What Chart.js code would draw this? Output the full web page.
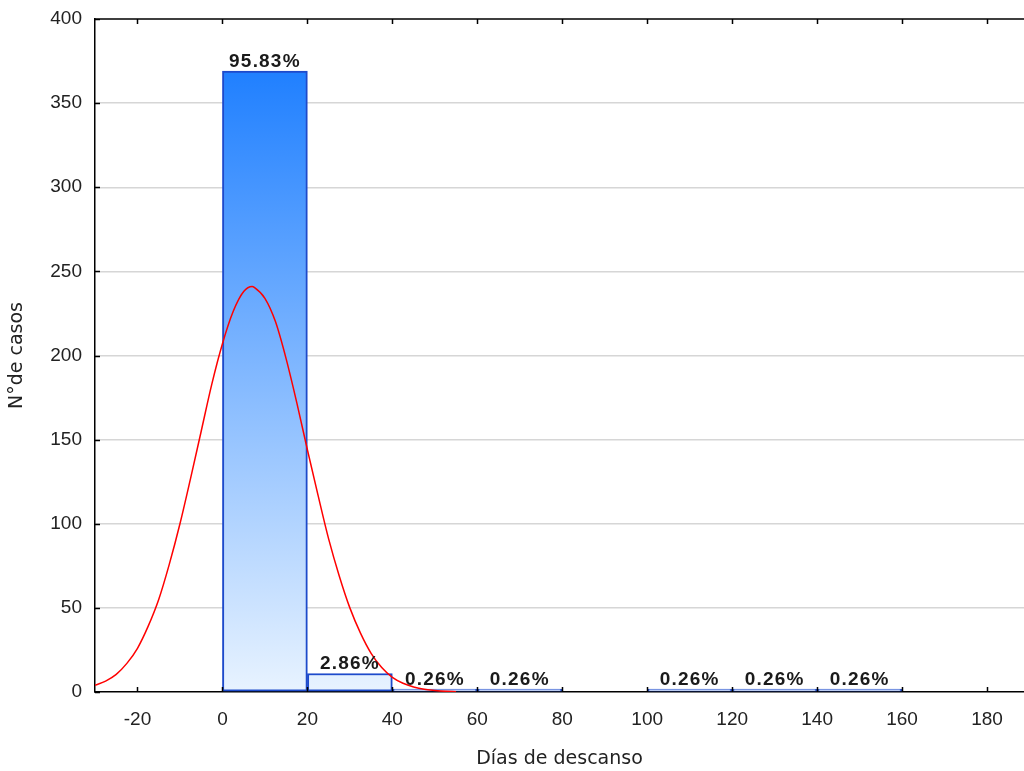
<!DOCTYPE html>
<html>
<head>
<meta charset="utf-8">
<script src="https://cdn.jsdelivr.net/npm/chart.js@4/dist/chart.umd.min.js"></script>
<style>
  html, body { margin:0; padding:0; background:#fff; overflow:hidden; }
  #wrap { width:1024px; height:771px; position:relative; }
</style>
</head>
<body>
<div id="wrap"><canvas id="hist"></canvas></div>
<script>
// ---- 資料 ----
const binCenters = [10, 30, 50, 70, 110, 130, 150];
const binCounts  = [369, 11, 1, 1, 1, 1, 1];
const binLabels  = ['95.83%', '2.86%', '0.26%', '0.26%', '0.26%', '0.26%', '0.26%'];

// 常態曲線
const curveX = [-30, -27.5, -25, -22.5, -20, -17.5, -15, -12.5, -10, -7.5, -5, -2.5, 0, 2.5, 5, 7, 7.5,
                10, 12.5, 15, 17.5, 20, 22.5, 25, 27.5, 30, 32.5, 35, 37.5, 40, 42.5, 45, 47.5, 50, 52.5, 55];
const curveY = [4, 6.5, 10.5, 17, 26, 39, 55, 76, 100, 127, 155, 183, 207, 226, 238, 241, 240.5,
                234, 220, 198, 172, 144, 117, 91, 69, 50, 35, 23, 14.5, 8.7, 5.2, 3, 1.6, 0.9, 0.4, 0.2];

const xTickVals = [-20, 0, 20, 40, 60, 80, 100, 120, 140, 160, 180];
const yTickVals = [0, 50, 100, 150, 200, 250, 300, 350, 400];

// ---- 內向刻度 + 上邊框 ----
const frameTicks = {
  id: 'frameTicks',
  afterDraw(chart) {
    const { ctx, chartArea: a, scales: { x, y } } = chart;
    ctx.save();
    ctx.strokeStyle = '#000';
    ctx.lineWidth = 1.5;
    ctx.beginPath();
    ctx.moveTo(a.left, a.top); ctx.lineTo(a.right, a.top);
    xTickVals.forEach(v => {
      const px = Math.round(x.getPixelForValue(v)) + 0.5;
      ctx.moveTo(px, a.bottom); ctx.lineTo(px, a.bottom - 5);
      ctx.moveTo(px, a.top); ctx.lineTo(px, a.top + 5);
    });
    yTickVals.forEach(v => {
      const py = Math.round(y.getPixelForValue(v)) + 0.5;
      ctx.moveTo(a.left, py); ctx.lineTo(a.left + 5, py);
    });
    ctx.stroke();
    ctx.restore();
  }
};

// ---- 柱頂百分比 ----
const barPct = {
  id: 'barPct',
  afterDatasetsDraw(chart) {
    const { ctx } = chart;
    const meta = chart.getDatasetMeta(0);
    ctx.save();
    ctx.font = 'bold 19px "Liberation Sans", Arial, sans-serif';
    ctx.letterSpacing = '1.2px';
    ctx.fillStyle = '#1a1a1a';
    ctx.textAlign = 'center';
    ctx.textBaseline = 'alphabetic';
    meta.data.forEach((bar, i) => {
      ctx.fillText(binLabels[i], bar.x, bar.y - 4);
    });
    ctx.restore();
  }
};

function barGradient(c) {
  const { ctx, chartArea } = c.chart;
  if (!chartArea) return '#2b8cff';
  const g = ctx.createLinearGradient(0, chartArea.top, 0, chartArea.bottom);
  g.addColorStop(0, '#0f76ff');
  g.addColorStop(1, '#e8f3ff');
  return g;
}

const tickFont = { family: '"Liberation Sans", Arial, sans-serif', size: 19 };

new Chart(document.getElementById('hist'), {
  type: 'bar',
  data: {
    datasets: [
      {
        type: 'bar',
        data: binCenters.map((c, i) => ({ x: c, y: binCounts[i] })),
        backgroundColor: barGradient,
        borderColor: '#1d4acb',
        borderWidth: 2,
        borderSkipped: false,
        minBarLength: 3,
        barPercentage: 1,
        categoryPercentage: 1,
        order: 1
      },
      {
        type: 'line',
        data: curveX.map((v, i) => ({ x: v, y: curveY[i] })),
        borderColor: '#ff0000',
        borderWidth: 1.5,
        pointRadius: 0,
        cubicInterpolationMode: 'monotone',
        fill: false,
        order: 0
      }
    ]
  },
  options: {
    responsive: true,
    maintainAspectRatio: false,
    animation: false,
    layout: { padding: { top: 19, right: 0, left: 0, bottom: 0 } },
    plugins: { legend: { display: false }, tooltip: { enabled: false } },
    scales: {
      x: {
        type: 'linear',
        offset: false,
        min: -30,
        max: 188.7,
        afterBuildTicks: s => { s.ticks = xTickVals.map(v => ({ value: v })); },
        afterFit: s => { s.height = 79; s.paddingLeft = 0; s.paddingRight = 0; },
        grid: { display: false, drawTicks: false, offset: false },
        border: { display: true, color: '#000', width: 1.5 },
        ticks: { font: tickFont, color: '#222', padding: 16, maxRotation: 0, callback: v => String(v) },
        title: {
          display: true,
          text: 'Días de descanso',
          color: '#222',
          font: { family: '"DejaVu Sans", sans-serif', size: 19 },
          padding: { top: 0, bottom: 1 }
        }
      },
      y: {
        min: 0,
        max: 400,
        afterBuildTicks: s => { s.ticks = yTickVals.map(v => ({ value: v })); },
        afterFit: s => { s.width = 95; s.paddingTop = 0; s.paddingBottom = 0; },
        grid: {
          drawTicks: false,
          color: c => (c.tick && (c.tick.value === 0 || c.tick.value === 400)) ? 'rgba(0,0,0,0)' : '#d6d6d6',
          lineWidth: 1.5
        },
        border: { display: true, color: '#000', width: 1.5 },
        ticks: { font: tickFont, color: '#222', padding: 13 },
        title: {
          display: true,
          text: 'N°de casos',
          color: '#222',
          font: { family: '"DejaVu Sans", sans-serif', size: 19 },
          padding: { top: 6, bottom: 0 }
        }
      }
    }
  },
  plugins: [frameTicks, barPct]
});
</script>
</body>
</html>
